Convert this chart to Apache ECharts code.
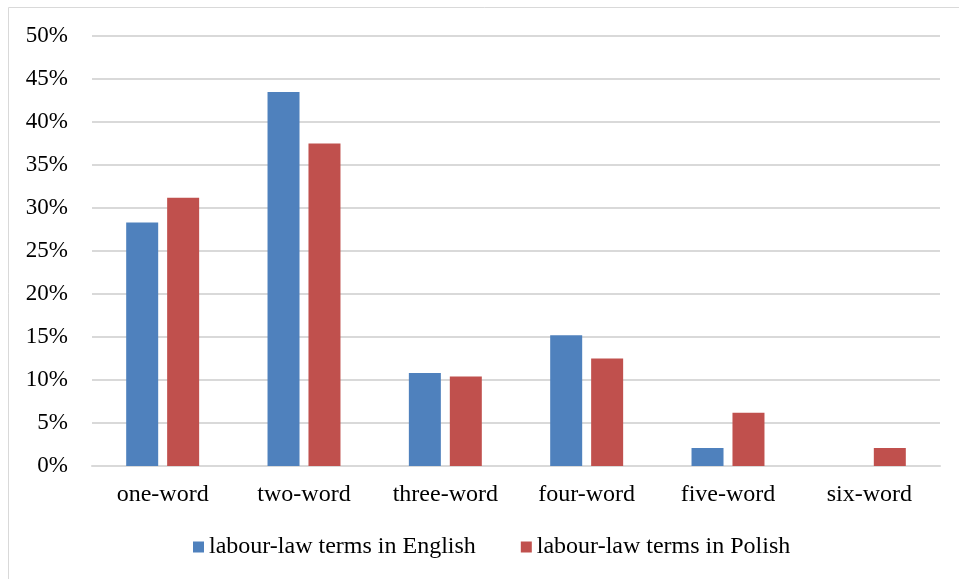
<!DOCTYPE html>
<html lang="en">
<head>
	<meta charset="UTF-8">
	<title>Term length</title>
	<style>
		html, body { margin: 0; padding: 0; background: #fff; }
		#main { width: 959px; height: 579px; }
	</style>
</head>
<body>
	<div id="main"></div>
	<script type="text/javascript" src="https://cdn.jsdelivr.net/npm/echarts@6/dist/echarts.min.js"></script>
	<script type="text/javascript">
		// data
		var categories = ['one-word', 'two-word', 'three-word', 'four-word', 'five-word', 'six-word'];
		var english = [28.3, 43.5, 10.8, 15.2, 2.1, 0];
		var polish = [31.2, 37.5, 10.4, 12.5, 6.2, 2.1];
		var seriesNames = ['labour-law terms in English', 'labour-law terms in Polish'];

		var myChart = echarts.init(document.getElementById('main'));

		myChart.setOption({
			animation: false,
			textStyle: { fontFamily: 'Liberation Serif', color: '#000' },
			graphic: [{
				type: 'rect',
				shape: { x: 8.5, y: 7.5, width: 960, height: 580 },
				style: { fill: 'none', stroke: '#d9d9d9', lineWidth: 1 },
				silent: true
			}],
			grid: { left: 92, right: 19, top: 36, bottom: 113 },
			legend: {
				data: seriesNames,
				bottom: 15,
				left: 188,
				itemWidth: 11,
				itemHeight: 11,
				itemGap: 45,
				icon: 'rect',
				textStyle: { fontFamily: 'Liberation Serif', fontSize: 24, color: '#000' }
			},
			xAxis: {
				type: 'category',
				data: categories,
				axisTick: { show: false },
				axisLine: { lineStyle: { color: '#d9d9d9', width: 2 } },
				axisLabel: { fontFamily: 'Liberation Serif', fontSize: 24, color: '#000', margin: 17 }
			},
			yAxis: {
				type: 'value',
				min: 0,
				max: 50,
				interval: 5,
				axisLine: { show: false },
				axisTick: { show: false },
				splitLine: { lineStyle: { color: '#d9d9d9', width: 2 } },
				axisLabel: {
					fontFamily: 'Liberation Serif', fontSize: 23, color: '#000', margin: 24,
					formatter: '{value}%'
				}
			},
			series: [{
				name: seriesNames[0],
				type: 'bar',
				data: english,
				barWidth: 32,
				barGap: '28%',
				itemStyle: { color: '#4f81bd' }
			}, {
				name: seriesNames[1],
				type: 'bar',
				data: polish,
				barWidth: 32,
				itemStyle: { color: '#c0504d' }
			}]
		});
	</script>
</body>
</html>
